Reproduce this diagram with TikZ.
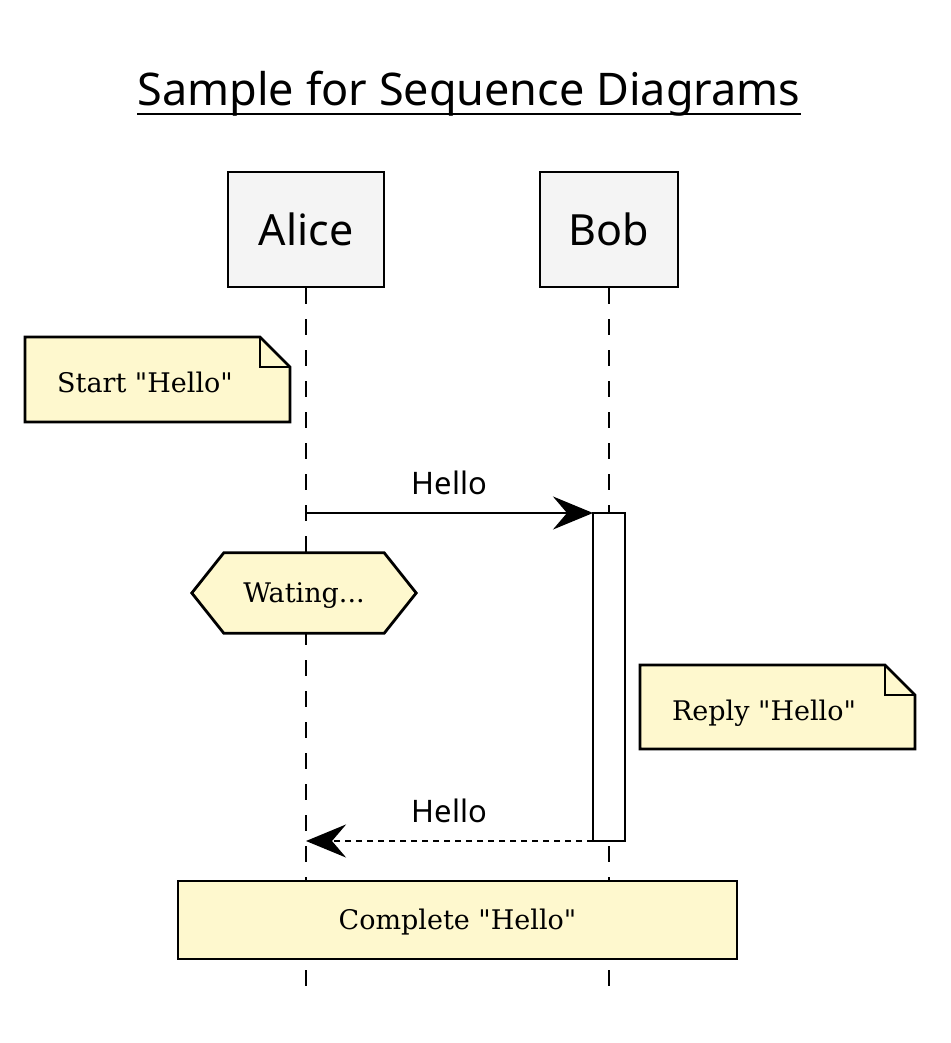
\documentclass[tikz,border=0pt]{standalone}
\usepackage{fontspec}
\setmainfont{DejaVu Serif}[Ligatures=TeXOff]
\setsansfont{Noto Sans}
\usetikzlibrary{arrows.meta,calc}
\pgfdeclarelayer{background}
\pgfsetlayers{background,main}
\definecolor{noteyellow}{RGB}{254,248,206}
\definecolor{partgray}{RGB}{244,244,244}
\begin{document}
\begin{tikzpicture}[x=1pt,y=-1pt]
        \tikzstyle{participant}=[draw, line width=2.8pt, fill=partgray, font=\sffamily\fontsize{43}{50}\selectfont, minimum width=156, minimum height=115, inner sep=0pt]
        \tikzstyle{lifeline}=[line width=2.8pt, dash pattern=on 16pt off 15pt]
        \tikzstyle{note}=[fill=noteyellow, draw, line width=2.8pt, line join=miter]
        \tikzstyle{notetext}=[font=\fontsize{27}{32}\selectfont, inner sep=0pt]
        \tikzstyle{msg}=[line width=2.8pt, -{Stealth[length=40pt,width=33pt,inset=14pt]}]
        \tikzstyle{msglabel}=[font=\sffamily\fontsize{31}{36}\selectfont, inner sep=0pt]

        \useasboundingbox (0,0) rectangle (950,1043);

        % title
        \node[font=\sffamily\fontsize{45}{52}\selectfont, inner sep=0pt, anchor=base] (title) at (469,106) {Sample for Sequence Diagrams};
        \draw[line width=2.8pt] ($(title.base west)+(0,8)$) coordinate (ul-a) -- ($(title.base east)+(0,8)$) coordinate (ul-b);

        % participants
        \node[participant] (alice) at (306,229.5) {Alice};
        \node[participant, minimum width=138] (bob) at (609,229.5) {Bob};
        \coordinate (alice-end) at (306,995);
        \coordinate (bob-end) at (609,995);
        \begin{pgfonlayer}{background}
        \draw[lifeline] (alice.south) -- (alice-end);
        \draw[lifeline] (bob.south) -- (bob-end);
        \end{pgfonlayer}

        % activation of Bob
        \node[draw, line width=2.8pt, fill=white, minimum width=32, minimum height=328, inner sep=0pt, outer sep=0pt] (bob-act) at (609,677) {};

        % note left of Alice
        \node[notetext, anchor=base] (start) at (145,392) {Start "Hello"};
        \begin{pgfonlayer}{background}
        \draw[note] (25,337) -- (260,337) -- (290,367) -- (290,422) -- (25,422) -- cycle;
        \draw[line width=2.8pt, line join=miter] (260,337) -- (260,367) -- (290,367);
        \end{pgfonlayer}

        % first message
        \coordinate (hello-from) at (306,513);
        \draw[msg] (hello-from) -- (bob-act.north west) node[msglabel, midway, above=17pt] {Hello};

        % waiting hexagon on Alice
        \node[notetext, minimum width=160, minimum height=80, text depth=0pt] (wait) at (304,593) {Wating...};
        \begin{pgfonlayer}{background}
        \draw[note] ($(wait.west)+(-32,0)$) -- (wait.north west) -- (wait.north east)
                -- ($(wait.east)+(32,0)$) -- (wait.south east) -- (wait.south west) -- cycle;
        \end{pgfonlayer}

        % note right of Bob
        \node[notetext, anchor=base] (reply) at (764,720) {Reply "Hello"};
        \begin{pgfonlayer}{background}
        \draw[note] (640,665) -- (885,665) -- (915,695) -- (915,749) -- (640,749) -- cycle;
        \draw[line width=2.8pt, line join=miter] (885,665) -- (885,695) -- (915,695);
        \end{pgfonlayer}

        % return message
        \coordinate (back-to) at (306,841);
        \draw[msg, dash pattern=on 6pt off 5pt] (bob-act.south west) -- (back-to) node[msglabel, midway, above=17pt] {Hello};

        % note over both
        \node[notetext, draw, line width=2.8pt, fill=noteyellow, minimum width=559, minimum height=78, text height=20pt, text depth=2pt] (done) at (457.5,920) {Complete "Hello"};
\end{tikzpicture}
\end{document}
